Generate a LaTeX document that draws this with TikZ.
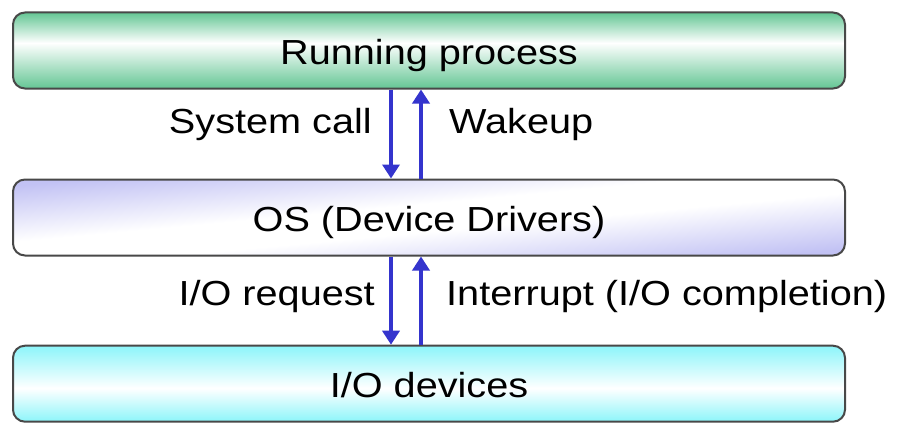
\documentclass[tikz,border=0pt]{standalone}
\usepackage{fontspec}
\setmainfont{Liberation Sans}[FakeStretch=1.14]
\usetikzlibrary{arrows.meta}
\definecolor{greenc}{RGB}{100,198,148}
\definecolor{lavc}{RGB}{194,194,244}
\definecolor{cyanc}{RGB}{140,245,250}
\definecolor{arrblue}{RGB}{52,52,205}
\definecolor{edgec}{RGB}{72,72,72}
\pgfdeclareverticalshading{greenband}{100bp}{color(0bp)=(greenc); color(25bp)=(greenc); color(55bp)=(white); color(75bp)=(greenc); color(100bp)=(greenc)}
\pgfdeclareverticalshading{cyanband}{100bp}{color(0bp)=(cyanc); color(25bp)=(cyanc); color(47bp)=(white); color(75bp)=(cyanc); color(100bp)=(cyanc)}
\pgfdeclareverticalshading{lavband}{100bp}{color(0bp)=(lavc); color(25bp)=(lavc); color(45bp)=(white); color(55bp)=(white); color(75bp)=(lavc); color(100bp)=(lavc)}
\tikzset{
  layerbox/.style={draw=edgec, line width=2pt, rounded corners=12pt,
    minimum width=832pt, minimum height=76pt, inner sep=0pt,
    text height=27pt, text depth=0pt},
  arr/.style={draw=arrblue, line width=3.5pt,
    -{Triangle[length=14pt,width=17pt]}},
  lbl/.style={inner sep=0pt}
}
\begin{document}
\begin{tikzpicture}[x=1pt,y=-1pt,font=\fontsize{34.8}{40}\selectfont]
\useasboundingbox (0,0) rectangle (904,436);
\node[layerbox, shading=greenband] (proc) at (429,50.5) {Running process};
\node[layerbox, shading=lavband, shading angle=5.3] (os) at (429,217.5) {OS (Device Drivers)};
\node[layerbox, shading=cyanband] (dev) at (429,383.7) {I/O devices};
\draw[arr] ([xshift=-38pt]proc.south) -- ([xshift=-38pt]os.north);
\draw[arr] ([xshift=-8pt]os.north) -- ([xshift=-8pt]proc.south);
\draw[arr] ([xshift=-38pt]os.south) -- ([xshift=-38pt]dev.north);
\draw[arr] ([xshift=-8pt]dev.north) -- ([xshift=-8pt]os.south);
\node[lbl, anchor=base east] (syscall) at (372,133.3) {System call};
\node[lbl, anchor=base west] (wake) at (449,133.3) {Wakeup};
\node[lbl, anchor=base east] (ioreq) at (375,305) {I/O request};
\node[lbl, anchor=base west] (intr) at (446,305) {Interrupt (I/O completion)};
\end{tikzpicture}
\end{document}
